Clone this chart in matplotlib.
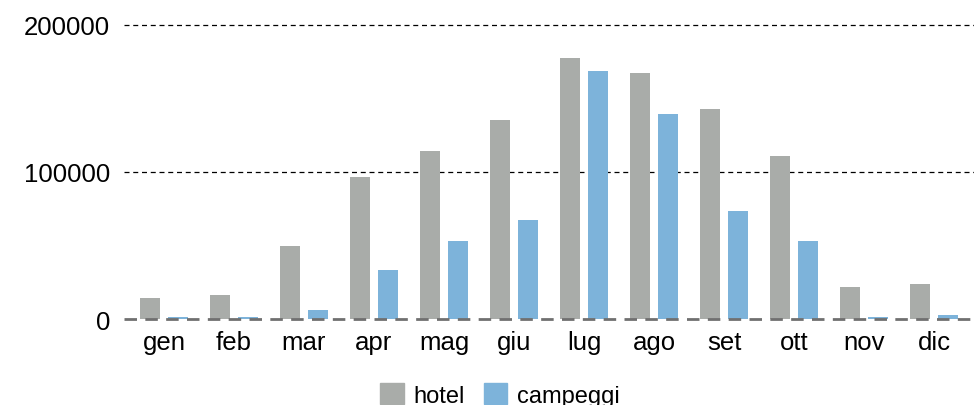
import matplotlib
matplotlib.use("Agg")
import matplotlib.pyplot as plt
import numpy as np
from matplotlib.patches import Patch

plt.rcParams['font.family'] = ['Liberation Sans', 'DejaVu Sans']

months = ["gen", "feb", "mar", "apr", "mag", "giu", "lug", "ago", "set", "ott", "nov", "dic"]
hotel = [14300, 16300, 49700, 96600, 114300, 135400, 177600, 167300, 142900, 110900, 21800, 23800]
campeggi = [1400, 1400, 6100, 33300, 53100, 67300, 168700, 139500, 73500, 53100, 1400, 2700]
yticks = [0, 100000, 200000]
ytick_labels = ["0", "100000", "200000"]

W, H = 974, 406
fig = plt.figure(figsize=(W / 100, H / 100), dpi=100)
left, right = 124, 974
top, bottom = 26, 320
ax = fig.add_axes([left / W, 1 - bottom / H, (right - left) / W, (bottom - top) / H])

x = np.arange(len(months))
bw = 20 / 70
off = 14 / 70
c_hotel = "#A9ACA9"
c_camp = "#7DB3DA"
ax.bar(x - off, hotel, bw, color=c_hotel, zorder=2, label="hotel")
ax.bar(x + off, campeggi, bw, color=c_camp, zorder=2, label="campeggi")

ax.set_xlim(-0.571, 11.571)
ax.set_ylim(0, 200000)

for v in yticks[1:]:
    ax.axhline(v, color="black", lw=0.9, ls=(0, (4, 3)), zorder=1, clip_on=False)
ax.axhline(0, color="#707070", lw=2, ls=(0, (4.5, 3)), zorder=3, clip_on=False)

for s in ax.spines.values():
    s.set_visible(False)

ax.set_yticks(yticks)
ax.set_yticklabels(ytick_labels)
ax.set_xticks(x)
ax.set_xticklabels(months)
ax.tick_params(axis="both", length=0, labelsize=18.5, colors="black")
ax.tick_params(axis="y", pad=10)
ax.tick_params(axis="x", pad=8)

handles = [Patch(color=c_hotel, label="hotel"), Patch(color=c_camp, label="campeggi")]
fig.legend(handles=handles, loc="center", bbox_to_anchor=(500 / W, 1 - 396 / H),
           ncol=2, frameon=False, fontsize=17, handlelength=1.0, handleheight=1.0,
           handletextpad=0.4, columnspacing=0.8, borderpad=0)

fig.savefig("out.png", dpi=100)
